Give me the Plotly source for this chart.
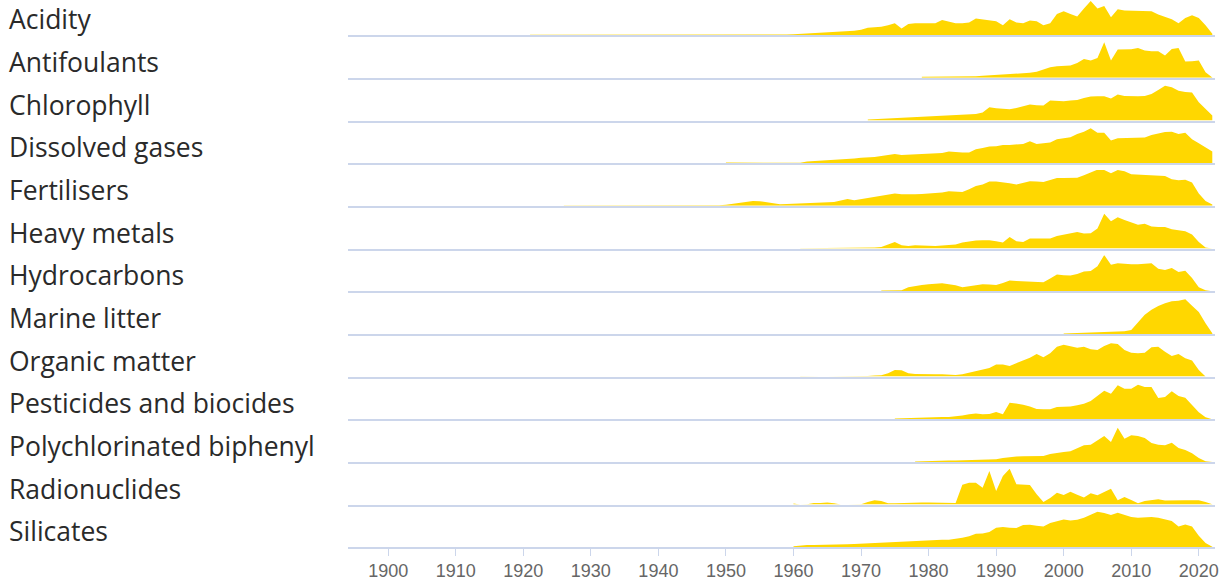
import plotly.graph_objects as go
from plotly.subplots import make_subplots

# ---------------- data (relative yearly index, per theme) ----------------
LABELS = ["Acidity", "Antifoulants", "Chlorophyll", "Dissolved gases", "Fertilisers",
          "Heavy metals", "Hydrocarbons", "Marine litter", "Organic matter",
          "Pesticides and biocides", "Polychlorinated biphenyl", "Radionuclides", "Silicates"]

TICK_YEARS = [1900, 1910, 1920, 1930, 1940, 1950, 1960, 1970, 1980, 1990, 2000, 2010, 2020]

ACIDITY_START = 1921
ACIDITY = [1, 1, 1, 1, 1, 1, 1, 1, 1, 1, 1, 1, 1, 1, 1, 1, 1, 1, 1,
           0, 0, 0, 0, 0, 0, 0, 0, 0, 0, 0, 0, 0, 0, 0, 0, 0,
           0, 2, 2, 3, 4, 4, 6, 7, 8, 9, 10, 12, 13,
           16, 22, 24, 25, 30, 36, 20, 34, 36, 36,
           34, 36, 46, 40, 36, 36, 38, 50, 48, 46,
           42, 30, 48, 38, 36, 44, 42, 30, 36, 64,
           72, 64, 56, 80, 103, 80, 88, 54, 78, 74,
           74, 72, 72, 72, 62, 54, 48, 36, 52, 60,
           52, 30, 4]

ANTIFOULANTS_START = 1979
ANTIFOULANTS = [3, 3, 3, 3, 4, 4, 4, 5, 5, 6, 7,
                8, 9, 10, 12, 14, 15, 18, 24, 32, 35,
                35, 37, 45, 57, 52, 60, 107, 52, 85, 86,
                86, 90, 82, 80, 80, 67, 87, 90, 49, 50,
                52, 17, 1]

CHLOROPHYLL_START = 1971
CHLOROPHYLL = [3, 4, 5, 6, 7, 8, 9, 10, 11,
               12, 13, 14, 15, 16, 17, 18, 20, 24, 40,
               37, 36, 34, 38, 43, 48, 46, 45, 60, 58,
               58, 60, 62, 68, 72, 73, 73, 66, 78, 74,
               73, 73, 74, 80, 92, 105, 100, 90, 86, 84,
               55, 35, 15]

DISSOLVED_GASES_START = 1950
DISSOLVED_GASES = [2, 2, 2, 2, 2, 2, 2, 2, 2, 1,
                   1, 1, 5, 6, 7, 8, 10, 11, 12, 14,
                   16, 17, 19, 22, 25, 28, 25, 26, 27, 28,
                   29, 30, 31, 35, 33, 32, 32, 42, 46, 50,
                   51, 55, 55, 56, 58, 66, 58, 60, 62, 72,
                   76, 78, 88, 95, 105, 92, 92, 68, 75, 75,
                   75, 75, 77, 85, 90, 94, 95, 88, 92, 72,
                   60, 48, 35]

FERTILISERS_START = 1926
FERTILISERS = [1, 1, 1, 1, 1, 1, 1, 1, 1, 1, 1, 1, 1, 1,
               0, 0, 0, 0, 0, 1, 1, 1, 2, 2,
               3, 6, 9, 13, 15, 14, 11, 6, 5, 6,
               7, 7, 8, 9, 10, 11, 12, 16, 21, 17,
               20, 24, 27, 30, 33, 37, 35, 34, 35, 36,
               37, 38, 40, 44, 43, 42, 50, 60, 64, 73,
               73, 71, 68, 64, 70, 74, 73, 72, 78, 84,
               84, 84, 85, 92, 100, 109, 108, 98, 108, 104,
               95, 94, 94, 94, 92, 90, 80, 77, 79, 70,
               37, 15, 4]

HEAVY_METALS_START = 1961
HEAVY_METALS = [1, 1, 1, 1, 1, 1, 1, 2, 2,
                3, 3, 3, 5, 12, 20, 10, 8, 10, 9,
                8, 8, 9, 10, 12, 18, 22, 24, 25, 25,
                22, 18, 35, 22, 20, 30, 30, 30, 30, 38,
                42, 46, 50, 45, 46, 60, 105, 82, 94, 86,
                78, 72, 75, 66, 65, 65, 58, 55, 52, 42,
                20, 3, 0]

HYDROCARBONS_START = 1973
HYDROCARBONS = [2, 2, 3, 3, 12, 16, 19,
                21, 23, 24, 21, 18, 12, 15, 20, 21, 20,
                19, 25, 32, 31, 30, 29, 28, 27, 38, 50,
                48, 47, 52, 59, 61, 75, 109, 80, 84, 82,
                81, 81, 83, 84, 68, 64, 70, 58, 62, 40,
                12, 3, 0]

MARINE_LITTER_START = 2000
MARINE_LITTER = [1, 2, 2, 3, 4, 5, 5, 6, 7, 8,
                 12, 35, 58, 73, 84, 92, 98, 100, 104, 85,
                 66, 32, 2]

ORGANIC_MATTER_START = 1961
ORGANIC_MATTER = [1, 0, 0, 0, 0, 0, 0, 0, 0,
                  1, 2, 3, 4, 10, 20, 19, 10, 8, 7,
                  7, 7, 7, 6, 5, 7, 12, 18, 22, 26,
                  36, 36, 32, 40, 47, 57, 68, 58, 70, 90,
                  96, 92, 87, 90, 82, 80, 92, 100, 98, 80,
                  72, 70, 72, 88, 90, 75, 62, 68, 55, 48,
                  20, 0]

PESTICIDES_START = 1975
PESTICIDES = [2, 3, 4, 5, 5,
              6, 6, 7, 7, 8, 11, 15, 17, 15, 16,
              22, 15, 50, 47, 44, 38, 31, 30, 30, 37,
              38, 38, 42, 47, 55, 70, 86, 77, 102, 92,
              92, 104, 97, 97, 64, 67, 84, 70, 65, 43,
              21, 6, 0]

PCB_START = 1978
PCB = [1, 2,
       2, 3, 3, 4, 4, 5, 6, 6, 7, 7,
       8, 12, 15, 16, 17, 17, 17, 18, 24, 28,
       30, 32, 42, 50, 52, 66, 78, 60, 103, 70,
       80, 78, 72, 57, 52, 50, 58, 42, 36, 26,
       12, 2, 0]

RADIONUCLIDES_START = 1960
RADIONUCLIDES = [3, 0, 1, 5, 5, 6, 4, 0, 0, 0,
                 1, 8, 13, 11, 4, 4, 5, 6, 6, 6,
                 6, 6, 6, 6, 5, 60, 66, 66, 51, 101,
                 41, 86, 108, 61, 61, 59, 31, 8, 20, 36,
                 29, 39, 30, 21, 34, 28, 38, 48, 13, 23,
                 14, 4, 11, 14, 16, 12, 13, 13, 13, 13,
                 13, 8, 1]

SILICATES_START = 1960
SILICATES = [2, 5, 6, 6, 6, 6, 6, 7, 8, 9,
             10, 13, 14, 15, 16, 17, 18, 19, 19, 20,
             20, 21, 22, 22, 24, 28, 32, 40, 41, 45,
             58, 60, 58, 57, 66, 67, 64, 62, 72, 78,
             83, 80, 82, 88, 98, 106, 102, 96, 103, 96,
             90, 88, 89, 90, 88, 83, 78, 62, 68, 62,
             34, 12, 1]

SERIES = [
    (ACIDITY_START, ACIDITY),
    (ANTIFOULANTS_START, ANTIFOULANTS),
    (CHLOROPHYLL_START, CHLOROPHYLL),
    (DISSOLVED_GASES_START, DISSOLVED_GASES),
    (FERTILISERS_START, FERTILISERS),
    (HEAVY_METALS_START, HEAVY_METALS),
    (HYDROCARBONS_START, HYDROCARBONS),
    (MARINE_LITTER_START, MARINE_LITTER),
    (ORGANIC_MATTER_START, ORGANIC_MATTER),
    (PESTICIDES_START, PESTICIDES),
    (PCB_START, PCB),
    (RADIONUCLIDES_START, RADIONUCLIDES),
    (SILICATES_START, SILICATES),
]

# ---------------- layout ----------------
W, H = 1219, 581
M_L, M_R, M_T, M_B = 348, 0, 0, 32
PLOT_H = H - M_T - M_B
PLOT_W = W - M_L - M_R
X_RANGE = [1894.05, 2022.4]
ROW_FIRST = 35.3      # px from top of plot to first baseline
ROW_STEP = 42.83      # px between baselines
ROW_H = 36.0          # px height of a full-scale row
FULL = 108.0          # value that fills ROW_H
FILL = "#FFD700"
AXIS_COL = "#ccd6eb"

n = len(LABELS)
fig = make_subplots(rows=n, cols=1, shared_xaxes=True, vertical_spacing=0)

for i, (label, (start, vals)) in enumerate(zip(LABELS, SERIES)):
    years = list(range(start, start + len(vals)))
    fig.add_trace(go.Scatter(
        x=years, y=vals, mode="lines",
        line=dict(color=FILL, width=0),
        fill="tozeroy", fillcolor=FILL,
        name=label, showlegend=False, hoverinfo="x+y+name",
    ), row=i + 1, col=1)

    base_px = ROW_FIRST + ROW_STEP * i
    bottom = max(0.0, (PLOT_H - base_px) / PLOT_H)
    top = min(1.0, bottom + ROW_H / PLOT_H)
    yrange_top = FULL * ((top - bottom) * PLOT_H) / ROW_H
    ykey = "yaxis" if i == 0 else f"yaxis{i + 1}"
    xkey = "xaxis" if i == 0 else f"xaxis{i + 1}"
    fig.layout[ykey].update(domain=[bottom, top], range=[0, yrange_top],
                            visible=False, fixedrange=True)
    last = (i == n - 1)
    fig.layout[xkey].update(
        range=X_RANGE, showline=True, linecolor=AXIS_COL, linewidth=1.5,
        showgrid=False, zeroline=False,
        showticklabels=last,
        ticks="outside" if last else "",
        ticklen=7, tickwidth=1, tickcolor=AXIS_COL,
        tickvals=TICK_YEARS, ticktext=[str(y) for y in TICK_YEARS],
        ticklabeloverflow="allow",
        tickfont=dict(family="Liberation Sans, Arial, sans-serif", size=18, color="#666666"),
    )

    fig.add_annotation(
        xref="paper", yref="paper",
        x=(5 - M_L) / PLOT_W, xanchor="left",
        y=(PLOT_H - (base_px - 16)) / PLOT_H, yanchor="middle",
        text=label, showarrow=False,
        font=dict(family="Open Sans, sans-serif", size=26.5, color="#2a2a2a"),
    )

fig.update_layout(
    width=W, height=H,
    margin=dict(l=M_L, r=M_R, t=M_T, b=M_B),
    paper_bgcolor="white", plot_bgcolor="white",
)

fig.write_html("out.html", config={"displayModeBar": False},
               post_script="document.body.style.margin='0';document.body.style.overflow='hidden';")
